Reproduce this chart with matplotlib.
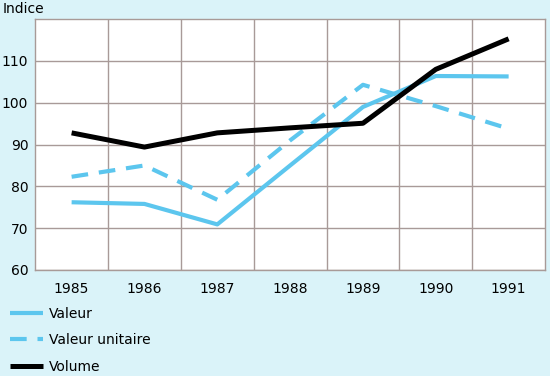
import matplotlib
matplotlib.use("Agg")
import matplotlib.pyplot as plt

annees = [1985, 1986, 1987, 1988, 1989, 1990, 1991]
valeur = [76.2, 75.8, 70.9, 85.0, 99.0, 106.4, 106.3]
valeur_unitaire = [82.3, 85.0, 76.8, 91.0, 104.3, 99.2, 93.8]
volume = [92.8, 89.4, 92.8, 94.0, 95.1, 108.0, 115.3]
yticks = [60, 70, 80, 90, 100, 110]

bleu = "#5cc6ee"
fond = "#daf3f9"
grille = "#a89a98"

fig = plt.figure(figsize=(5.5, 3.76), dpi=100, facecolor=fond)
ax = fig.add_axes([0.064, 0.282, 0.927, 0.667])
ax.set_facecolor("white")

ax.plot(annees, valeur, color=bleu, lw=3.0, label="Valeur", solid_capstyle="butt")
ax.plot(annees, valeur_unitaire, color=bleu, lw=3.0, ls=(0, (4, 2.6)),
        label="Valeur unitaire", dash_capstyle="butt")
ax.plot(annees, volume, color="black", lw=3.6, label="Volume", solid_capstyle="butt")

ax.set_xlim(1984.5, 1991.5)
ax.set_ylim(60, 120)
ax.set_xticks(annees)
ax.set_yticks(yticks)
ax.set_xticks([a + 0.5 for a in annees[:-1]], minor=True)
ax.set_yticks(yticks + [120], minor=True)
ax.grid(which="minor", axis="x", color=grille, lw=1.0)
ax.grid(which="major", axis="y", color=grille, lw=1.0)
ax.tick_params(which="both", length=0, labelsize=10)
ax.tick_params(axis="x", pad=9)
ax.tick_params(axis="y", pad=5)
for s in ax.spines.values():
    s.set_color(grille)
    s.set_linewidth(1.0)

fig.text(0.004, 0.995, "Indice", fontsize=10, ha="left", va="top")

fig.legend(loc="lower left", bbox_to_anchor=(-0.005, -0.027), frameon=False,
           fontsize=10, handlelength=2.4, handletextpad=0.4, labelspacing=0.9)

fig.savefig("out.png", dpi=100, facecolor=fond)
